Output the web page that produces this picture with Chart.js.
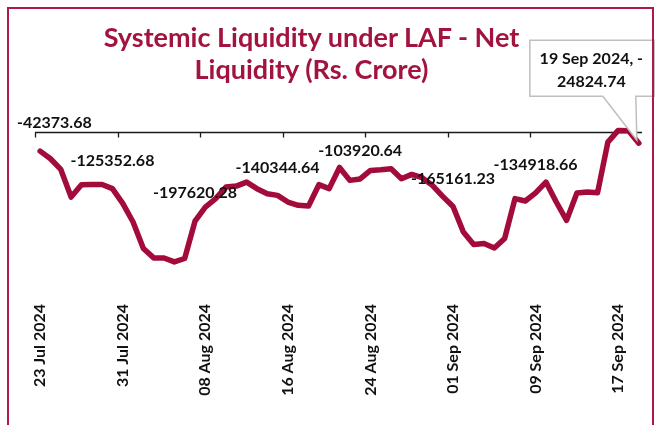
<!DOCTYPE html>
<html>
<head>
<meta charset="utf-8">
<script src="https://cdn.jsdelivr.net/npm/chart.js@4.4.1/dist/chart.umd.min.js"></script>
<style>
  html, body { margin: 0; padding: 0; background: #fff; overflow: hidden; }
  #wrap { position: relative; width: 655px; height: 425px; }
  #frame { position: absolute; left: 7px; top: 7px; width: 643px; height: 500px;
           border: 2px solid #B0184A; border-bottom: none; pointer-events: none; z-index: 2; }
  #title { position: absolute; left: 0; top: 21px; width: 623px; text-align: center;
           font: bold 27px Lato, sans-serif; line-height: 32px; color: #A2133F; z-index: 1; }
  canvas { position: absolute; left: 0; top: 0; }
</style>
</head>
<body>
<div id="wrap">
  <div id="title">Systemic Liquidity under LAF - Net<br>Liquidity (Rs. Crore)</div>
  <canvas id="line-chart" width="655" height="425"></canvas>
  <div id="frame"></div>
</div>
<script>
const dates = [
  "23 Jul 2024", "24 Jul 2024", "25 Jul 2024", "26 Jul 2024", "27 Jul 2024", "28 Jul 2024", "29 Jul 2024",
  "30 Jul 2024", "31 Jul 2024", "01 Aug 2024", "02 Aug 2024", "03 Aug 2024", "04 Aug 2024", "05 Aug 2024",
  "06 Aug 2024", "07 Aug 2024", "08 Aug 2024", "09 Aug 2024", "10 Aug 2024", "11 Aug 2024", "12 Aug 2024",
  "13 Aug 2024", "14 Aug 2024", "15 Aug 2024", "16 Aug 2024", "17 Aug 2024", "18 Aug 2024", "19 Aug 2024",
  "20 Aug 2024", "21 Aug 2024", "22 Aug 2024", "23 Aug 2024", "24 Aug 2024", "25 Aug 2024", "26 Aug 2024",
  "27 Aug 2024", "28 Aug 2024", "29 Aug 2024", "30 Aug 2024", "31 Aug 2024", "01 Sep 2024", "02 Sep 2024",
  "03 Sep 2024", "04 Sep 2024", "05 Sep 2024", "06 Sep 2024", "07 Sep 2024", "08 Sep 2024", "09 Sep 2024",
  "10 Sep 2024", "11 Sep 2024", "12 Sep 2024", "13 Sep 2024", "14 Sep 2024", "15 Sep 2024", "16 Sep 2024",
  "17 Sep 2024", "18 Sep 2024", "19 Sep 2024"
];

const netLiquidity = [
  -42373.68, -59200, -82900, -144100, -116700, -116500, -116300,
  -125352.68, -158000, -199300, -258100, -278900, -279000, -287700,
  -280200, -197620.28, -166200, -147600, -122000, -119800, -110900,
  -125500, -136600, -140344.64, -155100, -162400, -164000, -116700,
  -125500, -78500, -107200, -103920.64, -85100, -83500, -81300,
  -103400, -93900, -101200, -118200, -142500, -165161.23, -221400,
  -249300, -247100, -256800, -236000, -147600, -152900, -134918.66,
  -110900, -155100, -195600, -135300, -133000, -134500, -22500,
  3500, 3000, -24824.74
];

// points that carry a value label, and the one with the callout
const labelledPoints = [0, 7, 15, 23, 31, 40, 48];
const calloutPoint = 58;

const topAxis = {
  id: 'topAxis',
  beforeDatasetsDraw(chart) {
    const { ctx, chartArea, scales } = chart;
    const y0 = Math.round(scales.y.getPixelForValue(0)) + 0.5;
    const band = chartArea.width / dates.length;
    ctx.save();
    ctx.strokeStyle = '#1a1a1a';
    ctx.lineWidth = 1.3;
    ctx.beginPath();
    ctx.moveTo(chartArea.left, y0);
    ctx.lineTo(chartArea.right - 2, y0);
    for (let i = 0; i < dates.length; i += 8) {
      const x = Math.round(scales.x.getPixelForValue(i) - band / 2) + 0.5;
      ctx.moveTo(x, y0);
      ctx.lineTo(x, y0 + 5);
    }
    ctx.stroke();
    ctx.restore();
  }
};

const pointLabels = {
  id: 'pointLabels',
  afterDatasetsDraw(chart) {
    const { ctx } = chart;
    const pts = chart.getDatasetMeta(0).data;
    ctx.save();
    ctx.font = 'bold 16px Lato, sans-serif';
    ctx.fillStyle = '#111';
    ctx.textAlign = 'center';
    ctx.textBaseline = 'middle';
    labelledPoints.forEach(i => {
      const txt = netLiquidity[i].toFixed(2);
      const w = ctx.measureText(txt).width;
      const x = Math.max(pts[i].x, 17 + w / 2);
      ctx.fillText(txt, x, pts[i].y - 28);
    });

    // callout for the last value
    const p = pts[calloutPoint];
    const v = netLiquidity[calloutPoint].toFixed(2);
    const l = p.x - 109, r = p.x + 16, t = p.y - 103, b = p.y - 47;
    ctx.strokeStyle = '#BFBFBF';
    ctx.lineWidth = 1.5;
    ctx.fillStyle = '#fff';
    ctx.beginPath();
    ctx.moveTo(l, t);
    ctx.lineTo(r, t);
    ctx.lineTo(r, b);
    ctx.lineTo(p.x - 3, b);
    ctx.lineTo(p.x - 2, p.y - 3);
    ctx.lineTo(p.x - 36, b);
    ctx.lineTo(l, b);
    ctx.closePath();
    ctx.fill();
    ctx.stroke();
    ctx.fillStyle = '#111';
    const cx = (l + r) / 2 - 1;
    ctx.fillText(dates[calloutPoint] + ', ' + v[0], cx, t + 19);
    ctx.fillText(v.slice(1), cx, t + 42);
    ctx.restore();
  }
};

new Chart(document.getElementById('line-chart'), {
  type: 'line',
  data: {
    labels: dates,
    datasets: [{
      data: netLiquidity,
      borderColor: '#A30B3B',
      borderWidth: 5.5,
      borderJoinStyle: 'round',
      borderCapStyle: 'round',
      pointRadius: 0,
      tension: 0,
      fill: false,
      clip: false
    }]
  },
  options: {
    responsive: false,
    animation: false,
    layout: { padding: { top: 132, left: 35, right: 11, bottom: 0 } },
    plugins: {
      legend: { display: false },
      tooltip: { enabled: false }
    },
    scales: {
      x: {
        offset: true,
        grid: { display: false },
        border: { display: false },
        afterFit: s => { s.height = 135; },
        ticks: {
          autoSkip: false,
          maxRotation: 90,
          minRotation: 90,
          padding: 6,
          color: '#111',
          font: { family: 'Lato', weight: 'bold', size: 16 },
          callback: (v, i) => (i % 8 === 0 ? dates[i] : null)
        }
      },
      y: {
        display: false,
        min: -350000,
        max: 0
      }
    }
  },
  plugins: [topAxis, pointLabels]
});
</script>
</body>
</html>
